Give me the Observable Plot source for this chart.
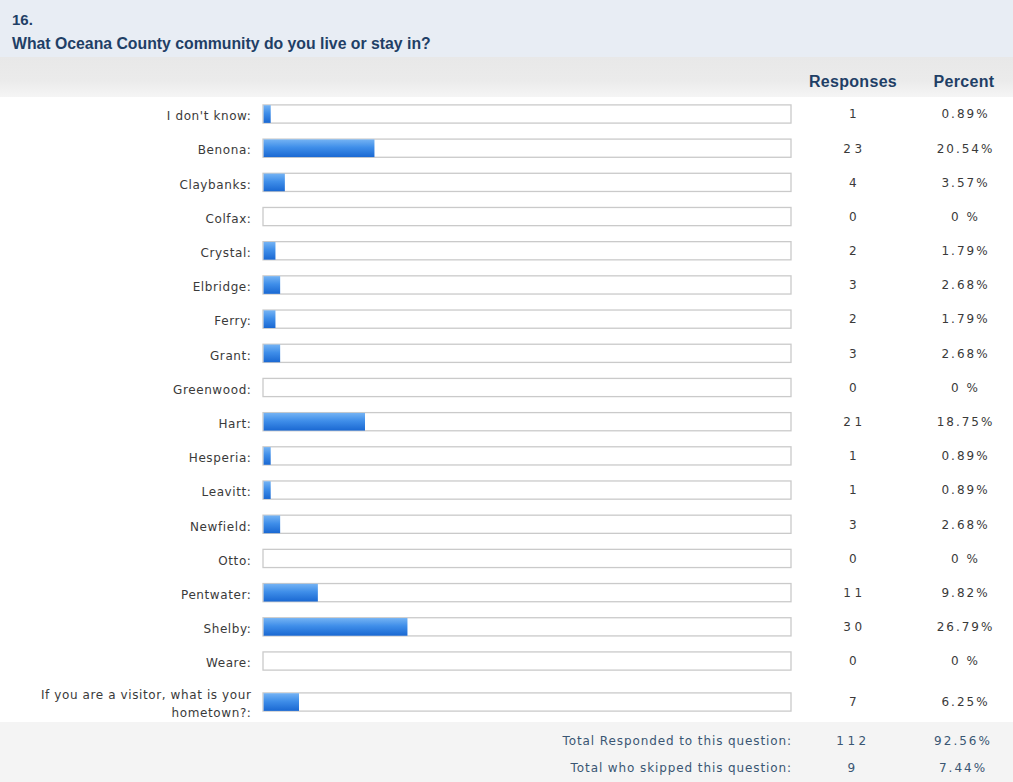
<!DOCTYPE html>
<html>
<head>
<meta charset="utf-8">
<script src="https://cdn.jsdelivr.net/npm/d3@7"></script>
<script src="https://cdn.jsdelivr.net/npm/@observablehq/plot@0.6"></script>
<style>
  html, body { margin: 0; padding: 0; background: #fff; }
  #wrap { width: 1013px; position: relative; font-family: "DejaVu Sans", Verdana, sans-serif; }
  #head1 { height: 57px; background: #e8edf4; position: relative; }
  #num { position: absolute; left: 12px; top: 11px; font: bold 15px "Liberation Sans", Arial, sans-serif; color: #1f3f66; }
  #q { position: absolute; left: 12px; top: 35px; font: bold 15.8px "Liberation Sans", Arial, sans-serif; color: #1f3f66; }
  #head2 { height: 40px; background: linear-gradient(#e8e8e8, #ebebeb 60%, #f5f5f5); position: relative; }
  .colh { position: absolute; top: 16px; font: bold 16px "Liberation Sans", Arial, sans-serif; color: #1f3f66; transform: translateX(-50%); letter-spacing: 0.3px; }
  #chart svg { display: block; }
  #foot { height: 60px; background: #f4f4f4; position: relative; color: #3a5673; font-size: 12px; letter-spacing: 0.9px; }
  .fl { position: absolute; right: 221px; }
  .fc { position: absolute; transform: translateX(-50%); }
  g[aria-description="labels"] text { letter-spacing: 0.6px; }
  g[aria-description="responses"] text { letter-spacing: 3.5px; }
  g[aria-description="percents"] text { letter-spacing: 2px; }
</style>
</head>
<body>
<div id="wrap">
  <div id="head1"><div id="num">16.</div><div id="q">What Oceana County community do you live or stay in?</div></div>
  <div id="head2"><div class="colh" style="left:853px">Responses</div><div class="colh" style="left:964px">Percent</div></div>
  <div id="chart"></div>
  <div id="foot"></div>
</div>
<script>
const categories = ["I don't know", "Benona", "Claybanks", "Colfax", "Crystal", "Elbridge", "Ferry", "Grant", "Greenwood", "Hart", "Hesperia", "Leavitt", "Newfield", "Otto", "Pentwater", "Shelby", "Weare", "If you are a visitor, what is your hometown?"];
const responses = [1, 23, 4, 0, 2, 3, 2, 3, 0, 21, 1, 1, 3, 0, 11, 30, 0, 7];
const percents = [0.89, 20.54, 3.57, 0, 1.79, 2.68, 1.79, 2.68, 0, 18.75, 0.89, 0.89, 2.68, 0, 9.82, 26.79, 0, 6.25];
const footerLabels = ["Total Responded to this question:", "Total who skipped this question:"];
const footerCounts = [112, 9];
const footerPercents = [92.56, 7.44];

const rows = categories.map((c, i) => ({category: c, responses: responses[i], percent: percents[i]}));
const fmtPct = p => p === 0 ? "0 %" : p.toFixed(2) + "%";
const wrapLabel = c => c.replace("your hometown", "your\nhometown") + ":";
const isTwoLine = d => wrapLabel(d.category).includes("\n");

const gradient = () => {
  const svgns = "http://www.w3.org/2000/svg";
  const defs = document.createElementNS(svgns, "defs");
  defs.innerHTML = `<linearGradient id="blueGrad" x1="0" y1="0" x2="0" y2="1">
      <stop offset="0" stop-color="#74b3f4"/>
      <stop offset="0.45" stop-color="#3f8ee9"/>
      <stop offset="1" stop-color="#1a68d2"/>
    </linearGradient>`;
  return defs;
};

// one set of row marks; the two-line row gets a little extra room (dy)
function rowMarks(data, dy) {
  return [
    Plot.barX(data, {x1: 0, x2: 100, y: "category", dy, fill: "#fff", stroke: "#cacaca", strokeWidth: 1.3, insetTop: 8, insetBottom: 8}),
    Plot.barX(data.filter(d => d.responses > 0), {x1: 0, x2: "percent", y: "category", dy, fill: "url(#blueGrad)", insetTop: 8.3, insetBottom: 8.2, insetLeft: 0.6, insetRight: -3}),
    Plot.text(data, {ariaDescription: "labels", x: 0, y: "category", dy, text: d => wrapLabel(d.category), textAnchor: "end", dx: -12, lineHeight: 1.5, fill: "#3a3a3a"}),
    Plot.text(data, {ariaDescription: "responses", frameAnchor: "right", y: "category", dy, text: d => String(d.responses), textAnchor: "middle", dx: 63, fill: "#3a3a3a"}),
    Plot.text(data, {ariaDescription: "percents", frameAnchor: "right", y: "category", dy, text: d => fmtPct(d.percent), textAnchor: "middle", dx: 174, fill: "#3a3a3a"})
  ];
}

const chart = Plot.plot({
  width: 1013,
  height: 625,
  marginLeft: 263,
  marginRight: 222,
  marginTop: 0,
  marginBottom: 0,
  style: {fontFamily: "'DejaVu Sans', Verdana, sans-serif", fontSize: "12px", color: "#333", background: "transparent"},
  x: {domain: [0, 100], axis: null},
  y: {domain: categories, padding: 0, round: false, range: [-0.1, 615.3], axis: null},
  marks: [
    gradient,
    ...rowMarks(rows.filter(d => !isTwoLine(d)), 0),
    ...rowMarks(rows.filter(isTwoLine), 6.8)
  ]
});
document.getElementById("chart").appendChild(chart);

// fallback: set letter spacing directly on text columns, in mark order
const spacingSeq = ["0.6px", "3.5px", "2px"];
const textGroups = Array.from(chart.querySelectorAll("g")).filter(g => g.querySelector(":scope > text"));
textGroups.forEach((g, i) => {
  const s = spacingSeq[i % 3];
  g.querySelectorAll("text").forEach(t => t.style.letterSpacing = s);
});

const foot = document.getElementById("foot");
footerLabels.forEach((lab, i) => {
  const top = 12 + i * 27;
  foot.insertAdjacentHTML("beforeend",
    `<div class="fl" style="top:${top}px">${lab}</div>` +
    `<div class="fc" style="top:${top}px;left:853px;letter-spacing:3.5px">${footerCounts[i]}</div>` +
    `<div class="fc" style="top:${top}px;left:963px;letter-spacing:2px">${fmtPct(footerPercents[i])}</div>`);
});
</script>
</body>
</html>
